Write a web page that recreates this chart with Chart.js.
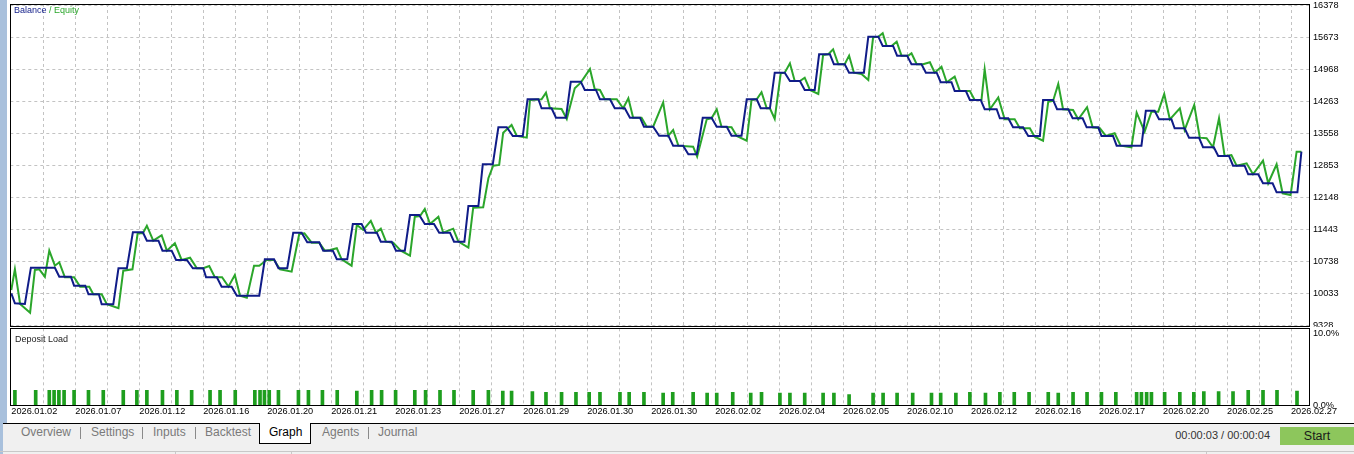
<!DOCTYPE html>
<html>
<head>
<meta charset="utf-8">
<script src="https://cdn.jsdelivr.net/npm/chart.js@4.4.1/dist/chart.umd.min.js"></script>
<style>
  html, body { margin: 0; padding: 0; }
  body { width: 1354px; height: 454px; position: relative; overflow: hidden; background: #fff;
         font-family: 'Liberation Sans', Arial, sans-serif; }
  canvas { position: absolute; left: 0; }
  #mainChart { top: 0; }
  #loadChart { top: 327px; }
  #strip { position: absolute; left: 0; top: 0; width: 7px; height: 423px; background: #a8c0dc; z-index: 2; }
  #strip2 { position: absolute; left: 0; top: 423px; width: 3px; height: 31px; background: #a8c0dc; z-index: 3; }
  #tabs { position: absolute; left: 0; top: 423px; width: 1354px; height: 31px; background: #f0f0f0;
          border-top: 1px solid #000; box-sizing: border-box; z-index: 1; }
  .tab { position: absolute; top: 425px; font-size: 12px; line-height: 14px; color: #7a7a7a; z-index: 4; white-space: nowrap; }
  .sep { position: absolute; top: 427px; width: 1px; height: 12px; background: #8a8a8a; z-index: 4; }
  #graphTab { position: absolute; left: 259px; top: 423px; width: 50px; height: 20px; background: #fff;
              border: 1px solid #000; border-top: none; z-index: 3; }
  #status { position: absolute; left: 0; top: 451px; width: 1354px; height: 1px; background: #c8c8c8; z-index: 4; }
  .vsep { position: absolute; top: 451px; width: 1px; height: 3px; background: #c8c8c8; z-index: 4; }
  #timer { position: absolute; right: 84px; top: 428px; font-size: 11px; line-height: 14px; color: #333; z-index: 4; }
  #start { position: absolute; left: 1280px; top: 427px; width: 74px; height: 18px; background: #8dc65c;
           font-size: 12.5px; line-height: 18px; text-align: center; color: #1a1a1a; z-index: 4; }
</style>
</head>
<body>
<canvas id="mainChart" width="1354" height="332"></canvas>
<canvas id="loadChart" width="1354" height="96"></canvas>
<div id="strip"></div>
<div id="strip2"></div>
<div id="tabs"></div>
<div id="graphTab"></div>
<span class="tab" style="left:21px">Overview</span>
<div class="sep" style="left:80px"></div>
<span class="tab" style="left:91px">Settings</span>
<div class="sep" style="left:142px"></div>
<span class="tab" style="left:153px">Inputs</span>
<div class="sep" style="left:195px"></div>
<span class="tab" style="left:205px">Backtest</span>
<span class="tab" style="left:269px;color:#000">Graph</span>
<span class="tab" style="left:322px">Agents</span>
<div class="sep" style="left:368px"></div>
<span class="tab" style="left:378px">Journal</span>
<div id="status"></div>
<div class="vsep" style="left:175px"></div>
<div class="vsep" style="left:291px"></div>
<div class="vsep" style="left:1206px"></div>
<span id="timer">00:00:03 / 00:00:04</span>
<div id="start">Start</div>

<script>
// 日期标签（每两格一个）
const dateLabels = ['2026.01.02', '2026.01.07', '2026.01.12', '2026.01.16', '2026.01.20', '2026.01.21',
    '2026.01.23', '2026.01.27', '2026.01.29', '2026.01.30', '2026.01.30', '2026.02.02', '2026.02.04',
    '2026.02.05', '2026.02.10', '2026.02.12', '2026.02.16', '2026.02.17', '2026.02.20', '2026.02.25',
    '2026.02.27'];

// 右侧刻度
const balanceTicks = [9328, 10033, 10738, 11443, 12148, 12853, 13558, 14263, 14968, 15673, 16378];
const loadTicks = [0, 10];

// 余额（阶梯）
const balanceX = [0, 0.9, 3.4, 4.9, 10.9, 12, 14.9, 15.7, 18.5, 19.3, 21.9, 22.6, 25.5, 26.8, 28.9, 30.4, 32.9,
    33.9, 36.8, 37.8, 40.1, 41.2, 43.9, 45.4, 48, 48.7, 51.4, 52.6, 55.1, 56.4, 62, 63.4, 65.7, 66.8, 69, 70.5,
    72.6, 74, 77, 78, 80.4, 81.4, 84, 85.4, 87.6, 88.7, 91.4, 92.4, 95.1, 96.2, 98.4, 99.7, 102, 103.4, 105.7,
    107, 109.7, 110.7, 113.3, 114.3, 116.8, 117.9, 120.4, 121.8, 123.9, 125.4, 127.9, 129.1, 131.8, 132.6,
    135.1, 136.2, 138.7, 139.9, 142.4, 143.4, 146.2, 147.2, 149.7, 150.9, 153.4, 154.7, 157.2, 158.2, 160.5,
    162, 164.3, 165.5, 168, 169.3, 171.4, 172.9, 175.1, 176.4, 178.9, 180.1, 182.6, 183.9, 186.4, 187.4,
    189.7, 190.9, 193.4, 194.7, 197.2, 198.4, 200.9, 202, 204.7, 205.7, 208.4, 209.5, 213.2, 214.3, 216.8,
    217.9, 220.5, 221.5, 224, 225.1, 227.6, 228.7, 231.4, 232.4, 235.1, 235.9, 238.7, 239.7, 242.4, 243.4,
    246.4, 247.2, 249.3, 250.5, 253, 254.3, 257.2, 258, 260.5, 261.5, 264.3, 265.4, 267.9, 268.9, 271.8,
    272.6, 275.5, 276.4, 282.6, 283.7, 285.9, 287, 290.1, 290.9, 293.4, 294.5, 297, 298, 300.7, 301.8, 304.5,
    305.5, 308.4, 309.3, 311.8, 313, 315.4, 316.4, 321.6, 322.6];
const balanceY = [10042, 9820, 9806, 10606, 10606, 10408, 10408, 10210, 10210, 10020, 10020, 9800, 9800,
    10593, 10593, 11386, 11386, 11201, 11201, 10981, 10981, 10776, 10776, 10593, 10593, 10395, 10395, 10188,
    10188, 9989, 9989, 10791, 10791, 10593, 10593, 11377, 11377, 11166, 11166, 10981, 10981, 10791, 10791,
    11569, 11569, 11377, 11377, 11179, 11179, 10981, 10981, 11767, 11767, 11569, 11569, 11377, 11377, 11179,
    11179, 11965, 11965, 12884, 12884, 13699, 13699, 13508, 13508, 14316, 14316, 14118, 14118, 13911, 13911,
    14704, 14704, 14521, 14521, 14316, 14316, 14118, 14118, 13911, 13911, 13712, 13712, 13514, 13514, 13294,
    13294, 13104, 13104, 13911, 13911, 13712, 13712, 13514, 13514, 14316, 14316, 14118, 14118, 14902, 14902,
    14719, 14719, 14521, 14521, 15307, 15307, 15087, 15087, 14902, 14902, 15695, 15695, 15490, 15490, 15277,
    15277, 15087, 15087, 14902, 14902, 14691, 14691, 14499, 14499, 14301, 14301, 14096, 14096, 13898, 13898,
    13699, 13699, 13508, 13508, 14301, 14301, 14096, 14096, 13898, 13898, 13699, 13699, 13508, 13508, 13294,
    13294, 14065, 14065, 13875, 13875, 13677, 13677, 13470, 13470, 13259, 13259, 13067, 13067, 12853, 12853,
    12664, 12664, 12466, 12466, 12267, 12267, 13162];

// 净值
const equityX = [0, 0.9, 2.2, 4.7, 5.9, 7, 8.4, 9.5, 10.9, 12, 13.4, 15.7, 17.2, 19.5, 20.5, 22.6, 23.9, 26.8,
    28, 30.3, 31.6, 32.9, 33.9, 35.5, 37.6, 38.9, 40.9, 42.6, 44.7, 46.4, 48, 49.5, 50.9, 52.7, 54.3, 55.9,
    57.2, 58.9, 60.7, 62, 63.9, 65.7, 67.2, 70.1, 72, 73.3, 75.1, 77, 78.4, 79.7, 81.4, 82.6, 85.1, 86.4, 88,
    89.9, 91.2, 92.4, 93.7, 95.5, 97.4, 99.7, 100.9, 102.2, 103.4, 104.7, 106.8, 108, 110.5, 111.8, 114.3,
    115.5, 118, 119.3, 120.5, 122, 123, 125.1, 126.4, 128.9, 129.7, 132.6, 133.7, 134.7, 137.6, 138.9, 140.9,
    142.4, 144.7, 145.9, 147.2, 148.4, 151.4, 153, 154.3, 155.5, 157.6, 158.9, 160.5, 163, 164.3, 165.5,
    166.8, 170.5, 171.5, 173.9, 175.1, 176.4, 177.6, 180.1, 181.4, 183.9, 185.1, 186.4, 187.6, 188.9, 189.7,
    190.9, 192.4, 193.4, 194.7, 195.9, 197.2, 198.4, 199.7, 201.8, 203, 204.3, 205.5, 206.8, 208.4, 209.5,
    210.7, 212.6, 214.3, 215.5, 216.8, 217.9, 218.9, 220.1, 221.4, 222.6, 224.3, 225.1, 226.4, 228, 229.7,
    230.9, 232.6, 233.9, 235.9, 237.2, 239.7, 240.9, 242.6, 243.4, 244.7, 246.8, 248.4, 250.9, 252.2, 254.7,
    255.9, 258, 259.3, 260.5, 261.8, 263, 265.5, 266.8, 269, 270.4, 272.2, 273.7, 275.9, 277.4, 280.1, 281.4,
    283.4, 285.1, 286.8, 288.3, 289.7, 292.2, 293.4, 295.8, 297.2, 298.9, 300.5, 302, 303.4, 305.1, 306.4,
    308.9, 310.5, 313, 314.3, 316.4, 317.9, 319.9, 321.4, 322.6];
const equityY = [10115, 10571, 9806, 9615, 10556, 10571, 10408, 10981, 10650, 10725, 10395, 10395, 10188,
    10188, 10020, 10020, 9800, 9712, 10540, 10571, 11364, 11364, 11531, 11201, 11320, 10981, 11144, 10776,
    10826, 10593, 10593, 10644, 10395, 10395, 10188, 10445, 9989, 9945, 10650, 10650, 10776, 10776, 10571,
    10518, 11349, 11364, 11157, 11157, 10981, 10996, 11034, 10791, 10650, 11547, 11437, 11635, 11377, 11465,
    11179, 11157, 10981, 10871, 11730, 11745, 11899, 11569, 11730, 11377, 11465, 11179, 11047, 11928, 11937,
    12576, 12853, 12869, 13580, 13750, 13508, 13470, 14301, 14316, 14461, 14118, 14102, 13882, 14558, 14682,
    14984, 14536, 14521, 14316, 14316, 14118, 14338, 13911, 13911, 13712, 13712, 14246, 13514, 13640, 13294,
    13272, 13052, 13875, 13898, 14096, 13712, 13699, 13508, 13404, 14301, 14316, 14470, 14118, 14118, 13882,
    14889, 14902, 15109, 14719, 14719, 14792, 14521, 14433, 15292, 15307, 15418, 15087, 15087, 15277, 14902,
    14873, 14741, 15682, 15695, 15770, 15490, 15490, 15585, 15277, 15277, 15329, 15087, 15087, 15131, 14902,
    15034, 14691, 14814, 14499, 14499, 14301, 14301, 14977, 14096, 14356, 13875, 13875, 13677, 13677, 13492,
    13404, 14263, 14279, 14653, 14096, 14080, 13875, 14140, 13699, 13677, 13508, 13567, 13294, 13259, 14021,
    13602, 14043, 14043, 14433, 13875, 14118, 13640, 14190, 13470, 13457, 13259, 13898, 13067, 13089, 12853,
    12906, 12664, 12963, 12466, 12884, 12245, 12208, 13162, 13162];

// 保证金占用 %
const loadX = [0.9, 6.1, 9.5, 10.7, 11.9, 13.2, 15.7, 19.3, 23, 28, 31.4, 33.9, 37.8, 41.4, 45.1, 49.7, 52.2,
    56, 60.9, 62.2, 63.3, 64.5, 66.8, 71.8, 74.3, 77.8, 81.5, 86.4, 90.1, 92.6, 96.1, 100.9, 103.6, 107.2,
    110.7, 115.5, 119.3, 122.9, 125.1, 130.3, 133.7, 137.6, 141.2, 144.5, 147.2, 152.2, 154.5, 158.2, 163,
    165.4, 170.5, 174, 176.4, 180.4, 184.9, 187.6, 192.2, 194.7, 198.4, 203, 205.7, 209.5, 215.5, 218, 221.5,
    225.4, 230.1, 232.4, 236.2, 239.7, 243.6, 247.2, 250.8, 254.5, 259.3, 261.8, 265.5, 269, 272.6, 276.2,
    281.4, 282.6, 283.9, 285.1, 288.4, 292.2, 295.7, 298.2, 301.9, 305.5, 309.3, 313, 316.5, 321.5];
const loadY = [2.1, 2.1, 2.1, 2.1, 2.1, 2.1, 2.1, 2.1, 2.1, 2.1, 2.1, 2.1, 2.1, 2.1, 2.1, 2.1, 2.1, 2.1, 2.1,
    2.1, 2.1, 2.1, 2.1, 2.1, 2.1, 2.1, 2.1, 2.0, 2.1, 2.1, 2.1, 2.1, 2.1, 2.1, 2.1,
    2.1, 2.1, 2.0, 2.0, 1.9, 1.8, 1.8, 1.8, 1.8, 1.8, 1.8, 1.8, 1.8, 1.7, 1.8, 1.8, 1.7, 1.7, 1.8, 1.7, 1.8,
    1.7, 1.7, 1.7, 1.7, 1.7, 1.5, 1.7, 1.7, 1.7,
    1.7, 1.7, 1.7, 1.7, 1.8, 1.7, 1.8, 1.8, 1.8, 1.8, 1.7, 1.8, 1.8, 1.8, 1.8, 1.8, 1.8, 1.8, 1.8, 1.8, 1.8,
    1.8, 1.9, 1.9, 1.9, 2.1, 2.1, 2.1, 2.0];

const BLUE = '#101c88';
const GREEN = '#2ba62b';
const GRID = '#c3c3c3';

Chart.defaults.font.family = "'Liberation Sans', Arial, sans-serif";
Chart.defaults.font.size = 9.2;
Chart.defaults.color = '#111';
Chart.defaults.animation = false;

function toPoints(xs, ys) {
    return xs.map((x, i) => ({ x: x, y: ys[i] }));
}

// 竖向网格：每 8 个单位一条
const gridSteps = [];
for (let v = 8; v <= 320; v += 8) gridSteps.push(v);

// 边框 + 白底 + 标题文字
const framePlugin = {
    id: 'frame',
    beforeDraw(chart) {
        const ctx = chart.ctx;
        ctx.save();
        ctx.fillStyle = '#fff';
        ctx.fillRect(0, 0, chart.width, chart.height);
        ctx.restore();
    },
    afterDraw(chart, args, opts) {
        const a = chart.chartArea;
        const ctx = chart.ctx;
        const l = Math.round(a.left), t = Math.round(a.top), r = Math.round(a.right), b = Math.round(a.bottom);
        ctx.save();
        ctx.strokeStyle = '#000';
        ctx.lineWidth = 1;
        ctx.strokeRect(l + 0.5, t + 0.5, r - l, b - t);
        ctx.font = "9px 'Liberation Sans', Arial, sans-serif";
        ctx.textBaseline = 'alphabetic';
        let x = opts.x;
        opts.parts.forEach(p => {
            ctx.fillStyle = p.color;
            ctx.fillText(p.text, x, opts.y);
            x += ctx.measureText(p.text).width;
        });
        ctx.restore();
    }
};

function fixedRightAxis(scale) {
    scale.width = 45;
    scale.paddingTop = 0;
    scale.paddingBottom = 0;
}

// 余额 / 净值
new Chart(document.getElementById('mainChart'), {
    type: 'line',
    data: {
        datasets: [
            { data: toPoints(balanceX, balanceY), borderColor: BLUE, borderWidth: 2, pointRadius: 0, tension: 0 },
            { data: toPoints(equityX, equityY), borderColor: GREEN, borderWidth: 2, pointRadius: 0, tension: 0 }
        ]
    },
    options: {
        responsive: false,
        events: [],
        layout: { padding: { left: 10.3, right: 0, top: 4, bottom: 6.3 } },
        plugins: {
            legend: { display: false },
            tooltip: { enabled: false },
            frame: { x: 14, y: 13, parts: [{ text: 'Balance', color: BLUE }, { text: ' / Equity', color: GREEN }] }
        },
        scales: {
            x: {
                type: 'linear', min: -0.25, max: 324.5,
                afterBuildTicks: s => { s.ticks = gridSteps.map(v => ({ value: v })); },
                afterFit: s => { s.height = 0; },
                ticks: { display: false },
                grid: { color: GRID, drawTicks: false },
                border: { display: false, dash: [3, 3] }
            },
            y: {
                position: 'right', min: 9328, max: 16415,
                afterBuildTicks: s => { s.ticks = balanceTicks.map(v => ({ value: v })); },
                afterFit: fixedRightAxis,
                ticks: { padding: 4, color: '#000', callback: v => String(v) },
                grid: { color: GRID, drawTicks: false },
                border: { display: false, dash: [3, 3] }
            }
        }
    },
    plugins: [framePlugin]
});

// Deposit Load
new Chart(document.getElementById('loadChart'), {
    type: 'bar',
    data: {
        datasets: [{
            data: toPoints(loadX, loadY), backgroundColor: '#1e9e1e', borderWidth: 0, barThickness: 3
        }]
    },
    options: {
        responsive: false,
        events: [],
        layout: { padding: { left: 10.3, right: 0, top: 1.3, bottom: 0 } },
        plugins: {
            legend: { display: false },
            tooltip: { enabled: false },
            frame: { x: 15, y: 14.5, parts: [{ text: 'Deposit Load', color: '#222' }] }
        },
        scales: {
            x: {
                type: 'linear', min: -0.25, max: 324.5, offset: false,
                afterBuildTicks: s => { s.ticks = [0].concat(gridSteps).map(v => ({ value: v })); },
                afterFit: s => { s.height = 17.7; s.paddingLeft = 0; s.paddingRight = 0; },
                ticks: {
                    align: 'start', autoSkip: false, maxRotation: 0, minRotation: 0, padding: 0.5, color: '#000',
                    callback: v => (v % 16 === 0 ? dateLabels[v / 16] : '')
                },
                grid: {
                    offset: false, drawTicks: false,
                    color: c => (c.tick && c.tick.value === 0 ? 'rgba(0,0,0,0)' : GRID)
                },
                border: { display: false, dash: [3, 3] }
            },
            y: {
                position: 'right', min: 0, max: 10.75,
                afterBuildTicks: s => { s.ticks = loadTicks.map(v => ({ value: v })); },
                afterFit: fixedRightAxis,
                ticks: { padding: 4, color: '#000', callback: v => v.toFixed(1) + '%' },
                grid: { display: false, drawTicks: false },
                border: { display: false }
            }
        }
    },
    plugins: [framePlugin]
});
</script>
</body>
</html>
